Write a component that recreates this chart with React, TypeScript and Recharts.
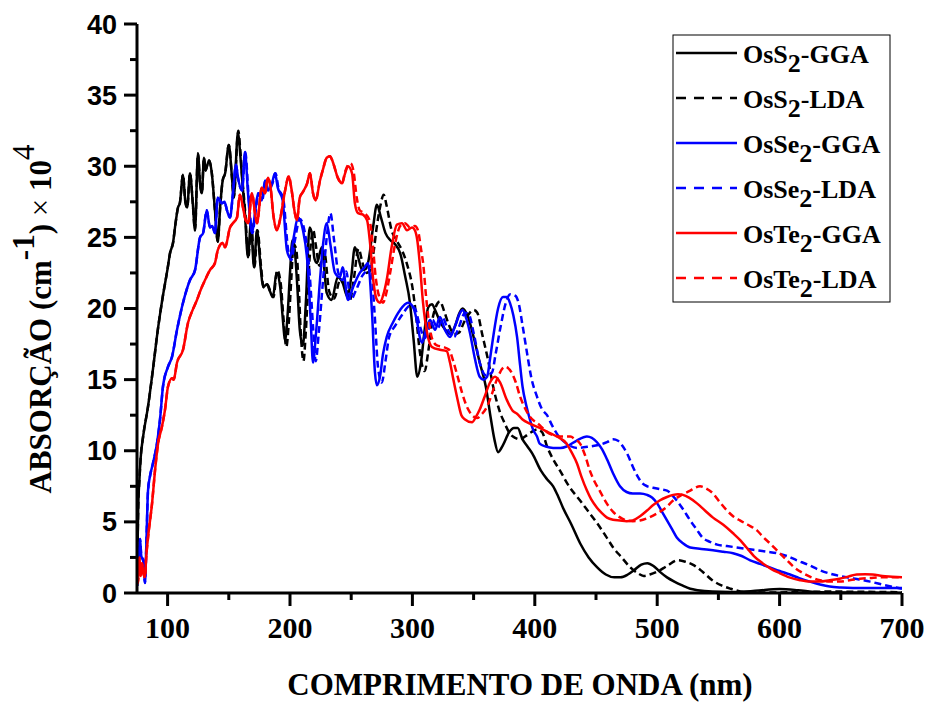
import React from 'react';
import { LineChart, Line, XAxis, YAxis } from 'recharts';

const serif = '"Liberation Serif", "Times New Roman", Times, serif';
const sans = '"Liberation Sans", Arial, Helvetica, sans-serif';

const xTicks = [100, 150, 200, 250, 300, 350, 400, 450, 500, 550, 600, 650, 700];
const yTicks = [0, 2.5, 5, 7.5, 10, 12.5, 15, 17.5, 20, 22.5, 25, 27.5, 30, 32.5, 35, 37.5, 40];

// [wavelength nm, absorption x 10^4 cm-1]
const osS2Gga: [number, number][] = [
  [75, 0.5], [75.5, 3.5], [76, 6], [77, 8], [78, 9.5], [80, 11], [84, 13.1], [88, 15.7], [92, 18.5],
  [96, 20.8], [100, 22.8], [102, 23.9], [104.4, 24.6], [106.5, 26], [108.5, 27.1], [110, 27.4],
  [112.6, 29.4], [114.5, 27.5], [116, 27.1], [118.3, 29.5], [120.5, 27.5], [122.4, 25.5], [124.8, 30.9],
  [126.5, 28.8], [128, 28.1], [129.7, 30.6], [131, 29.7], [132.5, 30.1], [134, 30.4], [136, 29.6],
  [138.7, 26.9], [141, 24.7], [143, 27.2], [145, 29.0], [147, 29.5], [150, 31.5], [152.6, 29.2],
  [154, 27.8], [157.5, 32.4], [159, 31.2], [160.8, 29.2], [163, 26.9], [165.7, 23.6], [168, 26.0],
  [170.6, 22.9], [173, 25.5], [176, 22.9], [178, 21.5], [181, 21.7], [183.7, 21.2], [186, 20.8],
  [189, 22.5], [192, 21.5], [194, 19.4], [196, 17.8], [198, 19.5], [200, 22.5], [202, 24.8], [204, 24],
  [206, 21.5], [208, 18.5], [210.5, 17.4], [213, 20.5], [216, 25.7], [218, 25.2], [220, 23.5],
  [222, 23.2], [226, 24.3], [230, 21.1], [234, 20.6], [239, 22.2], [243, 21.8], [247, 20.8], [250, 22.2],
  [253, 24.3], [256, 23.5], [259, 22.7], [262, 22.8], [264, 23.3], [268, 25.8], [271, 27.3], [274, 26.5],
  [278, 25.3], [282, 24.8], [286, 24.5], [290, 23.9], [294, 22.3], [298, 20.4], [301, 17.8], [304, 15.2],
  [307, 16.2], [310, 18.5], [313, 20.1], [316, 20.3], [319, 19.8], [323, 19.0], [327, 18.5], [331, 18.2],
  [335, 18.8], [338, 19.6], [341, 20.0], [345, 19.5], [350, 18], [355, 16.2], [360, 14.5], [364, 12.3],
  [367, 10.8], [370, 9.9], [374, 10.4], [379, 11.3], [383, 11.6], [386, 11.6], [390, 10.8], [394, 10.3],
  [398, 9.8], [405, 8.6], [410, 8], [415, 7.5], [419, 6.8], [423, 6.0], [430, 4.8], [437, 3.5],
  [444, 2.5], [451, 1.8], [458, 1.3], [465, 1.1], [470, 1.1], [476, 1.3], [481, 1.6], [487, 2.0],
  [492, 2.1], [497, 1.9], [502, 1.5], [508, 1.1], [514, 0.8], [520, 0.55], [527, 0.3], [533, 0.2],
  [545, 0.1], [560, 0.07], [580, 0.15], [600, 0.28], [615, 0.2], [630, 0.07], [650, 0.03], [700, 0.0],
];

const osS2Lda: [number, number][] = [
  [75, 0.5], [75.5, 3.5], [76, 6], [77, 8], [78, 9.5], [80, 11], [84, 13.1], [88, 15.7], [92, 18.5],
  [96, 20.8], [100, 22.8], [102, 23.9], [104.4, 24.6], [106.5, 26], [108.5, 27.1], [110, 27.4],
  [112.6, 29.4], [114.5, 27.5], [116, 27.1], [118.3, 29.5], [120.5, 27.5], [122.4, 25.5], [124.8, 30.9],
  [126.5, 28.8], [128, 28.1], [129.7, 30.6], [131, 29.7], [132.5, 30.1], [134, 30.4], [136, 29.6],
  [138.7, 26.9], [141, 24.7], [143, 27.2], [145, 29.0], [147, 29.5], [150, 31.5], [152.6, 29.2],
  [154, 27.8], [157.8, 32.5], [159.3, 31.2], [161, 29.2], [163.3, 26.9], [166, 23.6], [168.3, 26.0],
  [171, 22.9], [173.4, 25.5], [176.4, 22.9], [178.4, 21.5], [181.4, 21.7], [184, 21.2], [186.5, 20.8],
  [189.5, 22.7], [192.5, 21.7], [194.5, 19.5], [197, 17.3], [199, 19], [201, 22], [203, 24.5],
  [205, 24.2], [207, 21.8], [209, 18], [211, 16.3], [213, 18.5], [216, 23.5], [219, 25.5], [221, 24.5],
  [224, 23], [228, 24], [232, 21.2], [236, 20.7], [241, 22], [245, 21.6], [249, 20.6], [252, 22],
  [256, 24.2], [259, 23.3], [262, 22.5], [265, 22.6], [268, 23.8], [271, 25.8], [274, 27.3],
  [276.5, 28.0], [279, 27.2], [283, 25.5], [287, 24.8], [292, 24], [296, 23], [300, 21.5], [303, 19.5],
  [306, 17], [310, 15.6], [313, 17], [317, 19.5], [322.5, 20.5], [326, 19.8], [330, 18.8], [334, 18.2],
  [338, 18.3], [342, 19], [346, 19.6], [350, 19.9], [353, 19.7], [357, 18.2], [362, 16.3], [366, 14.5],
  [371.6, 12.7], [375, 12], [379.7, 11.2], [384, 10.9], [388, 10.8], [392, 11], [397, 11.3], [402, 11.5],
  [406, 11.3], [410, 10.3], [415, 9.4], [420.6, 8.6], [428, 7.5], [437, 6.5], [444, 5.7], [451, 4.9],
  [458, 4], [464, 3.2], [471, 2.5], [478, 1.8], [484, 1.4], [489, 1.2], [494, 1.3], [500, 1.5],
  [508, 1.9], [517, 2.3], [523, 2.2], [529, 2.0], [537, 1.5], [545, 0.9], [552, 0.55], [560, 0.3],
  [573, 0.05], [600, 0.04], [640, 0.1], [700, 0.05],
];

const osSe2Gga: [number, number][] = [
  [75, 0.5], [75.5, 3.0], [76.5, 2.2], [77.5, 3.8], [78.5, 2.6], [80, 2.3], [81.5, 0.7], [82.5, 3],
  [84, 7.2], [85.6, 8.2], [88, 9.1], [91.3, 10.5], [93.8, 12.2], [96.2, 14.5], [100.3, 15.9],
  [103.6, 16.6], [107.7, 18.5], [112.6, 20.4], [118.3, 22.0], [122.4, 22.7], [126.5, 25.0], [129, 25.3],
  [132, 26.9], [134.6, 25.7], [136.5, 25.8], [138.7, 25.3], [141, 27.8], [144.4, 27.4], [146.5, 27.5],
  [148.5, 26.9], [151, 26.4], [153.4, 28.1], [155.9, 30.1], [157.5, 29.2], [160.8, 28.3], [163.2, 31.0],
  [165.7, 28.1], [169, 25.3], [171.4, 26.7], [173.9, 28.1], [177, 27.6], [179.6, 29.0], [182, 28.3],
  [185.3, 28.8], [187.7, 29.5], [190, 28.5], [194, 27.6], [197.5, 24.1], [200, 23.6], [203, 25],
  [206.5, 26.4], [210.6, 25.5], [214.7, 22.7], [217, 19], [218.8, 16.2], [221, 18], [224.5, 22.0],
  [227, 24.5], [230, 26.0], [233, 24.5], [236.8, 22.5], [240.8, 22.2], [243, 22.9], [247.4, 20.6],
  [251.5, 21.5], [257, 22.5], [261, 22.9], [263.7, 23.2], [267, 19.7], [269.4, 15.5], [271, 14.6],
  [273.5, 15.2], [276, 16.8], [279, 18.0], [284, 19.0], [290, 19.9], [296.4, 20.4], [300.5, 20.1],
  [304, 19], [306, 18.0], [308, 17.6], [311, 18.5], [314.4, 19.2], [318.5, 18.5], [322.5, 19.4],
  [326.6, 18.5], [330.7, 18.0], [335, 18.8], [339, 19.7], [341, 19.9], [344, 19.3], [347, 18.3],
  [351, 16.5], [355, 15.2], [358, 15.0], [361, 15.2], [363.5, 16.5], [366, 18.0], [370, 20], [374, 20.8],
  [377, 20.8], [379.7, 20.4], [382.5, 19.5], [385.5, 18.0], [388, 16], [390, 14.5], [393, 13.2],
  [396, 12.2], [398.5, 11.5], [401.8, 11.0], [404, 10.5], [409, 10.3], [415, 10.2], [421, 10.2],
  [426, 10.3], [434, 10.7], [442.6, 11.0], [450.8, 10.6], [455, 10.1], [459, 9.4], [464, 8.4],
  [469.6, 7.5], [475, 7.1], [480, 7.0], [486, 7.0], [491.7, 6.9], [496, 6.7], [500, 6.3], [504, 5.7],
  [508, 5.1], [512, 4.5], [516, 3.9], [521, 3.5], [527, 3.2], [536, 3.1], [545.6, 3.0], [554, 2.9],
  [562, 2.8], [569, 2.6], [576, 2.3], [584, 2.05], [592, 1.8], [600, 1.55], [608.5, 1.3], [616, 1.05],
  [624.8, 0.8], [633, 0.6], [641, 0.45], [650, 0.38], [660, 0.35], [680, 0.35], [700, 0.35],
];

const osSe2Lda: [number, number][] = [
  [75, 0.5], [75.5, 3.0], [76.5, 2.2], [77.5, 3.8], [78.5, 2.6], [80, 2.3], [81.5, 0.7], [82.5, 3],
  [84, 7.2], [85.6, 8.2], [88, 9.1], [91.3, 10.5], [93.8, 12.2], [96.2, 14.5], [100.3, 15.9],
  [103.6, 16.6], [107.7, 18.5], [112.6, 20.4], [118.3, 22.0], [122.4, 22.7], [126.5, 25.0], [129, 25.3],
  [132, 26.9], [134.6, 25.7], [136.5, 25.8], [138.7, 25.3], [141, 27.8], [144.4, 27.4], [146.5, 27.5],
  [148.5, 26.9], [151, 26.4], [153.4, 28.1], [155.9, 30.1], [157.5, 29.2], [160.8, 28.3], [163.5, 31.0],
  [166, 28.1], [169.3, 25.3], [171.7, 26.7], [174.2, 28.1], [177.3, 27.6], [180, 29.0], [182.4, 28.3],
  [185.7, 28.8], [188.2, 29.5], [190.5, 28.5], [194.5, 27.7], [198.5, 24.1], [201, 23.4], [204, 24.8],
  [208, 26.3], [212, 25.4], [216, 22.5], [219, 18.5], [221, 16.3], [223.5, 18.3], [227, 22], [230, 25],
  [233, 26.7], [236, 24.8], [239.5, 22.5], [243, 22], [246, 22.6], [249.5, 20.6], [254, 21.3],
  [259, 22.3], [263, 22.7], [266, 23], [269, 19.8], [272, 15.8], [275, 14.8], [278, 16.3], [281, 18],
  [286, 18.8], [292, 19.6], [298, 20.2], [302, 20.0], [306, 18.8], [310, 17.9], [313, 18.5],
  [316.5, 19.2], [320.5, 18.6], [325, 19.3], [329, 18.5], [334, 18.0], [338, 18.7], [343, 19.7],
  [346, 19.6], [350, 18.3], [355, 16.2], [360, 15.3], [365, 15.5], [368, 16.8], [372, 18.7], [376, 20.3],
  [380, 21.0], [384, 20.9], [387, 20.3], [390, 18.8], [393.6, 16.9], [397, 15.2], [401.8, 13.8],
  [406, 12.9], [410, 12.5], [414, 11.8], [418, 11.2], [426, 10.5], [434.5, 10.2], [445, 10.3],
  [452, 10.4], [459, 10.6], [464, 10.8], [468, 10.7], [472, 10.3], [476, 9.7], [480, 8.9], [484, 8.2],
  [488, 7.7], [492, 7.5], [496.6, 7.4], [502, 7.3], [508, 7.2], [512, 6.9], [516, 6.5], [521, 5.9],
  [527, 5.1], [532, 4.5], [537, 3.9], [543, 3.6], [549, 3.4], [557, 3.3], [565, 3.2], [573, 3.1],
  [581.5, 3.0], [590, 2.9], [598, 2.8], [606, 2.6], [614, 2.3], [623, 2.0], [633, 1.6], [644, 1.3],
  [655, 1.1], [665, 0.95], [674, 0.8], [686, 0.55], [700, 0.3],
];

const osTe2Gga: [number, number][] = [
  [75, 0.8], [75.8, 0.7], [77, 2.5], [78, 1.2], [79.1, 2.1], [80, 1.5], [81.5, 1.1], [82.5, 2.5],
  [84, 3.9], [87.3, 6.3], [89.7, 8.6], [92.2, 10.5], [95.4, 11.7], [97.9, 12.9], [100.3, 14.5],
  [103.6, 15.1], [105, 15.0], [107.7, 16.2], [112.6, 17.1], [116.7, 19.0], [120, 19.8], [124, 20.6],
  [127, 21.3], [130.6, 22.0], [134.6, 22.7], [138.7, 23.2], [141, 24.1], [145, 24.6], [147, 24.3],
  [151, 25.7], [153.4, 26.0], [156.7, 26.4], [159, 28.0], [161.6, 27.1], [163.5, 26.3], [165.7, 26.0],
  [169, 28.1], [171.4, 26.7], [173, 26.0], [177, 28.5], [179.6, 28.1], [182, 29.2], [184, 28.6],
  [186.5, 26.5], [189.4, 25.5], [192, 26.3], [196, 28.3], [199, 29.3], [201, 28.5], [204, 26.7],
  [205.7, 26.2], [208, 27.8], [210.6, 28.2], [214, 28.8], [216.3, 29.5], [218.8, 28.1], [221, 27.6],
  [224.5, 29.0], [227, 29.8], [230, 30.6], [232.7, 30.7], [235, 30.3], [239, 29.2], [242.5, 28.8],
  [245, 29.5], [247.4, 30.0], [250.7, 29.5], [253, 27.4], [255.6, 26.7], [259.6, 26.6], [263, 26.2],
  [265.4, 24.6], [268, 22.0], [271, 20.6], [273.5, 20.4], [276, 20.9], [279, 22.0], [283, 24.3],
  [287.4, 25.9], [291.5, 26.0], [295.6, 25.5], [299.7, 25.7], [302, 25.5], [304, 24.8], [306, 23.2],
  [308.7, 20.4], [312, 18.3], [316, 17.3], [322.5, 17.1], [328, 17.0], [330.7, 16.2], [333.5, 15],
  [336.4, 13.8], [340, 12.5], [343, 12.2], [348.7, 12.0], [352, 12.4], [355, 12.9], [359, 13.8],
  [363.4, 14.8], [367.5, 15.2], [371.6, 14.8], [377, 13.6], [382, 12.8], [385.5, 12.6], [390, 12.2],
  [396, 11.9], [404, 11.6], [411, 11.3], [418, 11.0], [426, 10.5], [430, 9.9], [434.5, 9.1], [438, 8.2],
  [442.6, 7.2], [446, 6.6], [450.8, 6.0], [455, 5.6], [459, 5.3], [464, 5.15], [469.6, 5.1], [475, 5.05],
  [480, 5.1], [486, 5.4], [491.7, 5.8], [497, 6.2], [502, 6.5], [508, 6.75], [513, 6.9], [517, 6.95],
  [521, 6.9], [526, 6.7], [532.5, 6.3], [539, 5.8], [545.6, 5.3], [554, 4.8], [562, 4.2], [568, 3.7],
  [573, 3.2], [579, 2.6], [586, 2.1], [593, 1.7], [600, 1.4], [608, 1.1], [616.7, 0.9], [625, 0.8],
  [633, 0.8], [641, 0.9], [649, 1.0], [656, 1.15], [663, 1.3], [670, 1.32], [676, 1.3], [684, 1.2],
  [692, 1.15], [700, 1.1],
];

const osTe2Lda: [number, number][] = [
  [75, 0.8], [75.8, 0.7], [77, 2.5], [78, 1.2], [79.1, 2.1], [80, 1.5], [81.5, 1.1], [82.5, 2.5],
  [84, 3.9], [87.3, 6.3], [89.7, 8.6], [92.2, 10.5], [95.4, 11.7], [97.9, 12.9], [100.3, 14.5],
  [103.6, 15.1], [105, 15.0], [107.7, 16.2], [112.6, 17.1], [116.7, 19.0], [120, 19.8], [124, 20.6],
  [127, 21.3], [130.6, 22.0], [134.6, 22.7], [138.7, 23.2], [141, 24.1], [145, 24.6], [147, 24.3],
  [151, 25.7], [153.4, 26.0], [156.7, 26.4], [159, 28.0], [161.6, 27.1], [163.5, 26.3], [165.7, 26.0],
  [169, 28.1], [171.4, 26.7], [173, 26.0], [177, 28.5], [179.6, 28.1], [182, 29.2], [184, 28.6],
  [186.5, 26.5], [189.4, 25.5], [192, 26.3], [196, 28.3], [199, 29.3], [201, 28.5], [204, 26.7],
  [205.7, 26.2], [208, 27.8], [210.6, 28.2], [214, 28.8], [216.3, 29.5], [218.8, 28.1], [221, 27.6],
  [224.5, 29.0], [227, 29.8], [230, 30.6], [232.7, 30.7], [235, 30.3], [239, 29.2], [242.5, 28.8],
  [245, 29.6], [247.5, 30.1], [249.5, 30.2], [252, 29.6], [254.5, 27.8], [257, 26.9], [261, 26.7],
  [265, 26.2], [267.5, 24.6], [270, 22.2], [273, 20.8], [276, 20.4], [279, 21.2], [282, 22.6],
  [286, 24.6], [290, 25.8], [294, 26.0], [298, 25.7], [302, 25.8], [304.5, 25.5], [307, 24.2],
  [309, 23.0], [311, 21], [313, 19.4], [316, 17.9], [320, 17.4], [325, 17.3], [330, 17.1], [333, 16.4],
  [337, 15.2], [340.5, 14.1], [344, 13.2], [347, 12.7], [352.8, 12.3], [357, 12.6], [361, 13.1],
  [365, 14], [369, 15.0], [375.6, 15.9], [381, 15.5], [384.5, 14.8], [388, 13.8], [392, 13], [396, 12.4],
  [404, 11.8], [410, 11.3], [415, 11.1], [422, 11.0], [429, 11.0], [433, 10.8], [437, 10.5], [441, 9.7],
  [445, 8.6], [449, 7.8], [453, 7.2], [458, 6.4], [464, 5.7], [469, 5.35], [475, 5.1], [480, 5.05],
  [486, 5.1], [493, 5.3], [500, 5.6], [507, 6.0], [513, 6.5], [520, 6.9], [527, 7.2], [531, 7.4],
  [535, 7.5], [540, 7.35], [545.6, 7.0], [551, 6.4], [557, 5.8], [562, 5.4], [567.6, 5.1], [574, 4.8],
  [581.5, 4.4], [587, 3.9], [592, 3.5], [599, 2.9], [606, 2.3], [612, 1.8], [619, 1.4], [626, 1.1],
  [633, 0.9], [641, 0.8], [649, 0.8], [657, 0.9], [665.7, 1.0], [674, 1.05], [682, 1.1], [690, 1.1],
  [700, 1.1],
];

const series = [
  { compound: 'OsS', method: 'GGA', color: '#000000', dashed: false, rows: osS2Gga },
  { compound: 'OsS', method: 'LDA', color: '#000000', dashed: true, rows: osS2Lda },
  { compound: 'OsSe', method: 'GGA', color: '#0000ff', dashed: false, rows: osSe2Gga },
  { compound: 'OsSe', method: 'LDA', color: '#0000ff', dashed: true, rows: osSe2Lda },
  { compound: 'OsTe', method: 'GGA', color: '#ff0000', dashed: false, rows: osTe2Gga },
  { compound: 'OsTe', method: 'LDA', color: '#ff0000', dashed: true, rows: osTe2Lda },
];

const toPoints = (rows: [number, number][]) => rows.map(([nm, abs]) => ({ nm, abs }));

const serifBold = { fontFamily: serif, fontWeight: 700 };
const sansBold = { fontFamily: sans, fontWeight: 700 };

const BottomTick = (props: any) => {
  const { x, y, payload } = props;
  const major = payload.value % 100 === 0;
  return (
    <g>
      <line x1={x} y1={y} x2={x} y2={y + (major ? 13 : 7)} stroke="#000" strokeWidth={3} />
      {major && (
        <text x={x} y={y + 45} textAnchor="middle" style={{ ...serifBold, fontSize: 30 }} fill="#000">
          {payload.value}
        </text>
      )}
    </g>
  );
};

const TopTick = (props: any) => {
  const { x, y, payload } = props;
  const major = payload.value % 100 === 0;
  return <line x1={x} y1={y} x2={x} y2={y + (major ? 10 : 6)} stroke="#000" strokeWidth={3} />;
};

const LeftTick = (props: any) => {
  const { x, y, payload } = props;
  const major = payload.value % 5 === 0;
  return (
    <g>
      <line x1={x} y1={y} x2={x - (major ? 13 : 7)} y2={y} stroke="#000" strokeWidth={3} />
      {major && (
        <text x={x - 20} y={y + 9.5} textAnchor="end" style={{ ...sansBold, fontSize: 27 }} fill="#000">
          {payload.value}
        </text>
      )}
    </g>
  );
};

const RightTick = (props: any) => {
  const { x, y, payload } = props;
  const major = payload.value % 5 === 0;
  return <line x1={x} y1={y} x2={x - (major ? 9 : 6)} y2={y} stroke="#000" strokeWidth={3} />;
};

const axisLine = { stroke: '#000', strokeWidth: 3 };

const Overlay = () => (
  <svg width={927} height={702} style={{ position: 'absolute', left: 0, top: 0, pointerEvents: 'none' }}>
    <text x={520} y={695} textAnchor="middle" style={{ ...serifBold, fontSize: 31 }} fill="#000">
      COMPRIMENTO DE ONDA (nm)
    </text>
    <text transform="translate(51, 319) rotate(-90)" textAnchor="middle" style={{ ...serifBold, fontSize: 31 }} fill="#000">
      ABSORÇÃO (cm
      <tspan dy={-17}>-1</tspan>
      <tspan dy={17}>) </tspan>
      <tspan style={{ fontWeight: 400 }}>×</tspan>
      <tspan> 10</tspan>
      <tspan dy={-17} style={{ fontWeight: 400 }}>4</tspan>
    </text>
    <g transform="translate(673, 35)">
      <rect x={0} y={0} width={217} height={267} fill="#fff" stroke="#000" strokeWidth={1} />
      {series.map((s, i) => (
        <g key={s.compound + s.method}>
          <line
            x1={3}
            y1={18 + 45 * i}
            x2={64}
            y2={18 + 45 * i}
            stroke={s.color}
            strokeWidth={2.5}
            strokeDasharray={s.dashed ? '10 8' : undefined}
          />
          <text x={70} y={28 + 45 * i} style={{ ...serifBold, fontSize: 26 }} fill="#000">
            {s.compound}
            <tspan dy={9}>2</tspan>
            <tspan dy={-9}>-{s.method}</tspan>
          </text>
        </g>
      ))}
    </g>
  </svg>
);

const App: React.FC = () => {
  return (
    <div style={{ position: 'absolute', left: 0, top: 0, width: 927, height: 702, background: '#fff' }}>
      <LineChart width={927} height={702} margin={{ top: 24, right: 25, bottom: 49, left: 0 }}>
        <XAxis
          xAxisId="bottom"
          dataKey="nm"
          type="number"
          domain={[75, 700]}
          allowDataOverflow
          ticks={xTicks}
          interval={0}
          tickSize={0}
          tickMargin={0}
          tickLine={false}
          axisLine={axisLine}
          tick={<BottomTick />}
          height={60}
        />
        <XAxis
          xAxisId="top"
          orientation="top"
          dataKey="nm"
          type="number"
          domain={[75, 700]}
          allowDataOverflow
          ticks={xTicks}
          interval={0}
          tickSize={0}
          tickMargin={0}
          tickLine={false}
          axisLine={axisLine}
          tick={<TopTick />}
          height={0}
        />
        <YAxis
          yAxisId="left"
          type="number"
          domain={[0, 40]}
          allowDataOverflow
          ticks={yTicks}
          interval={0}
          tickSize={0}
          tickMargin={0}
          tickLine={false}
          axisLine={axisLine}
          tick={<LeftTick />}
          width={137}
        />
        <YAxis
          yAxisId="right"
          orientation="right"
          type="number"
          domain={[0, 40]}
          allowDataOverflow
          ticks={yTicks}
          interval={0}
          tickSize={0}
          tickMargin={0}
          tickLine={false}
          axisLine={axisLine}
          tick={<RightTick />}
          width={0}
        />
        {series.map((s) => (
          <Line
            key={s.compound + s.method}
            xAxisId="bottom"
            yAxisId="left"
            data={toPoints(s.rows)}
            dataKey="abs"
            type="monotone"
            stroke={s.color}
            strokeWidth={2.5}
            strokeDasharray={s.dashed ? '7 4' : undefined}
            dot={false}
            activeDot={false}
            isAnimationActive={false}
          />
        ))}
      </LineChart>
      <Overlay />
    </div>
  );
};

export default App;
